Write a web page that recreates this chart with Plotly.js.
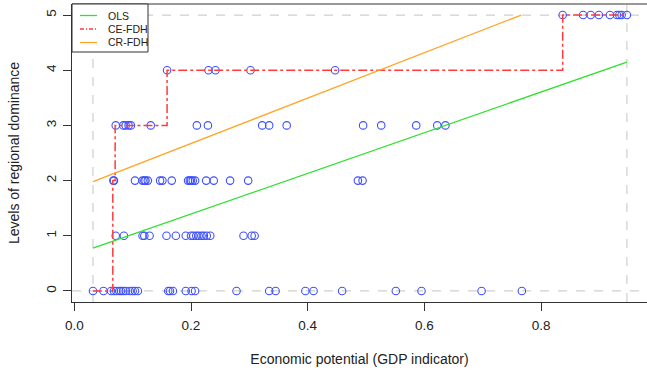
<!DOCTYPE html>
<html>
<head>
<meta charset="utf-8">
<script src="https://cdn.plot.ly/plotly-3.0.1.min.js"></script>
<style>
  html, body { margin: 0; padding: 0; background: #fff; }
  #chart { width: 647px; height: 373px; }
</style>
</head>
<body>
<div id="chart"></div>
<script>
// Economic potential (GDP indicator) of regions, grouped by level of regional dominance
const gdpLevel0 = [0.032, 0.050, 0.063, 0.068, 0.072, 0.077, 0.080, 0.084, 0.088, 0.095, 0.100, 0.104, 0.109,
                   0.161, 0.164, 0.169, 0.191, 0.201, 0.207, 0.278, 0.334, 0.345, 0.396, 0.410, 0.459,
                   0.551, 0.595, 0.698, 0.767];
const gdpLevel1 = [0.071, 0.085, 0.117, 0.120, 0.129, 0.158, 0.174, 0.191, 0.200, 0.204, 0.209, 0.213,
                   0.218, 0.222, 0.227, 0.233, 0.290, 0.304, 0.309];
const gdpLevel2 = [0.067, 0.068, 0.104, 0.117, 0.120, 0.122, 0.126, 0.147, 0.151, 0.167, 0.195, 0.198,
                   0.200, 0.203, 0.207, 0.226, 0.239, 0.267, 0.298, 0.486, 0.494];
const gdpLevel3 = [0.071, 0.084, 0.088, 0.093, 0.097, 0.131, 0.210, 0.229, 0.322, 0.334, 0.364, 0.495,
                   0.526, 0.586, 0.622, 0.636];
const gdpLevel4 = [0.159, 0.230, 0.242, 0.302, 0.447];
const gdpLevel5 = [0.837, 0.872, 0.885, 0.899, 0.918, 0.930, 0.934, 0.938, 0.947];
const levels = [0, 1, 2, 3, 4, 5];

// Ceiling lines
const olsX = [0.032, 0.947];
const olsY = [0.775, 4.147];
const ceFdhX = [0.032, 0.066, 0.070, 0.159, 0.837, 0.947];   // step corners (horizontal-then-vertical)
const ceFdhY = [0, 2, 3, 4, 5, 5];
const crFdhX = [0.032, 0.766];
const crFdhY = [1.98, 5];

// Scope of the data (min / max of each variable)
const scopeX = [0.032, 0.947];
const scopeY = [0, 5];

const xTicks = [0, 0.2, 0.4, 0.6, 0.8];
const xTickText = ['0.0', '0.2', '0.4', '0.6', '0.8'];
const yTicks = [0, 1, 2, 3, 4, 5];

const groups = [gdpLevel0, gdpLevel1, gdpLevel2, gdpLevel3, gdpLevel4, gdpLevel5];
const ptX = [], ptY = [];
groups.forEach((g, i) => g.forEach(v => { ptX.push(v); ptY.push(levels[i]); }));

const W = 647, H = 373;
const M = { l: 72, r: 0, t: 4, b: 71 };
const plotW = W - M.l - M.r, plotH = H - M.t - M.b;
const px = x => (x - M.l) / plotW;          // pixel -> paper x
const py = y => (M.t + plotH - y) / plotH;  // pixel -> paper y

const font = 'Liberation Sans, Arial, Helvetica, sans-serif';
const ink = '#222';
const cOLS = '#2fe02f', cCE = '#ff3b3b', cCR = '#ffa526';

const traces = [
  { x: ptX, y: ptY, type: 'scatter', mode: 'markers', hoverinfo: 'x+y',
    marker: { symbol: 'circle-open', size: 7.5, color: '#3d4fff', line: { width: 1.1, color: '#3d4fff' } } },
  { x: olsX, y: olsY, type: 'scatter', mode: 'lines', name: 'OLS',
    line: { color: cOLS, width: 1.3 } },
  { x: ceFdhX, y: ceFdhY, type: 'scatter', mode: 'lines', name: 'CE-FDH',
    line: { color: cCE, width: 1.5, dash: 'dashdot', shape: 'hv' } },
  { x: crFdhX, y: crFdhY, type: 'scatter', mode: 'lines', name: 'CR-FDH',
    line: { color: cCR, width: 1.3 } }
];

const grey = { color: '#cfcfcf', width: 1.2, dash: 'dash' };
const shapes = [
  { type: 'line', xref: 'x', yref: 'paper', x0: scopeX[0], x1: scopeX[0], y0: 0, y1: 1, line: grey, layer: 'below' },
  { type: 'line', xref: 'x', yref: 'paper', x0: scopeX[1], x1: scopeX[1], y0: 0, y1: 1, line: grey, layer: 'below' },
  { type: 'line', xref: 'paper', yref: 'y', x0: 0, x1: 1, y0: scopeY[0], y1: scopeY[0], line: grey, layer: 'below' },
  { type: 'line', xref: 'paper', yref: 'y', x0: 0, x1: 1, y0: scopeY[1], y1: scopeY[1], line: grey, layer: 'below' },
  // top edge of the plot box
  { type: 'line', xref: 'paper', yref: 'paper', x0: 0, x1: 1, y0: 1, y1: 1, line: { color: '#333', width: 1 } },
  // legend box
  { type: 'rect', xref: 'paper', yref: 'paper', x0: 0, x1: px(148), y0: py(52), y1: 1,
    fillcolor: '#fff', line: { color: '#333', width: 1 } }
];

const legendItems = [
  { label: 'OLS', color: cOLS, dash: 'solid', y: 15.5 },
  { label: 'CE-FDH', color: cCE, dash: 'dashdot', y: 29 },
  { label: 'CR-FDH', color: cCR, dash: 'solid', y: 42.5 }
];
const annotations = [];
legendItems.forEach(it => {
  shapes.push({ type: 'line', xref: 'paper', yref: 'paper', x0: px(80), x1: px(97), y0: py(it.y), y1: py(it.y),
                line: { color: it.color, width: 1.3, dash: it.dash === 'dashdot' ? '4px,2px,1px,2px' : 'solid' } });
  annotations.push({ xref: 'paper', yref: 'paper', x: px(106), y: py(it.y), text: it.label, showarrow: false,
                     xanchor: 'left', yanchor: 'middle', font: { family: font, size: 10.5, color: ink } });
});

const layout = {
  width: W, height: H,
  margin: M,
  paper_bgcolor: '#fff', plot_bgcolor: '#fff',
  showlegend: false,
  font: { family: font, size: 13, color: ink },
  xaxis: {
    range: [-(74.3 - M.l) / 583.5, -(74.3 - M.l) / 583.5 + plotW / 583.5],
    tickvals: xTicks, ticktext: xTickText,
    ticks: 'outside', ticklen: 8, tickcolor: '#333', tickwidth: 1,
    ticklabelstandoff: 3,
    showline: true, linecolor: '#333', linewidth: 1,
    showgrid: false, zeroline: false,
    tickfont: { family: font, size: 13.5, color: ink },
    title: { text: 'Economic potential (GDP indicator)', font: { family: font, size: 14, color: ink }, standoff: 21 },
    automargin: false
  },
  yaxis: {
    range: [-0.2, 5.2],
    tickvals: yTicks,
    tickangle: -90,
    ticks: 'outside', ticklen: 8, tickcolor: '#333', tickwidth: 1,
    ticklabelstandoff: 2,
    showline: true, linecolor: '#333', linewidth: 1,
    showgrid: false, zeroline: false,
    tickfont: { family: font, size: 13.5, color: ink },
    title: { text: 'Levels of regional dominance', font: { family: font, size: 14, color: ink }, standoff: 20 },
    automargin: false
  },
  shapes: shapes,
  annotations: annotations
};

Plotly.newPlot('chart', traces, layout, { displayModeBar: false, staticPlot: true });
</script>
</body>
</html>
